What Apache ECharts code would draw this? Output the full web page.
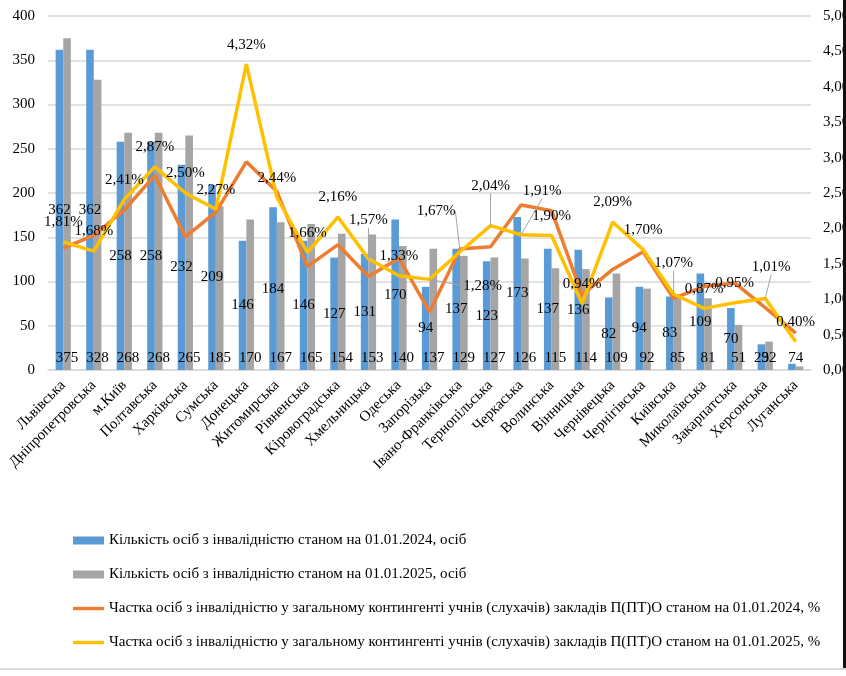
<!DOCTYPE html>
<html>
<head>
<meta charset="utf-8">
<script src="https://cdn.jsdelivr.net/npm/echarts@6/dist/echarts.min.js"></script>
<style>
html, body { margin: 0; padding: 0; background: #fff; }
#main { width: 846px; height: 676px; }
</style>
</head>
<body>
<div id="main"></div>
<script>
// області
let regions = ['Львівська', 'Дніпропетровська', 'м.Київ', 'Полтавська', 'Харківська', 'Сумська',
	'Донецька', 'Житомирська', 'Рівненська', 'Кіровоградська', 'Хмельницька', 'Одеська',
	'Запорізька', 'Івано-Франківська', 'Тернопільська', 'Черкаська', 'Волинська', 'Вінницька',
	'Чернівецька', 'Чернігівська', 'Київська', 'Миколаївська', 'Закарпатська', 'Херсонська', 'Луганська']

let count2024 = [362, 362, 258, 258, 232, 209, 146, 184, 146, 127, 131, 170, 94, 137, 123, 173, 137, 136, 82, 94, 83, 109, 70, 29, 7]
let count2025 = [375, 328, 268, 268, 265, 185, 170, 167, 165, 154, 153, 140, 137, 129, 127, 126, 115, 114, 109, 92, 85, 81, 51, 32, 4]

let share2024 = [1.72, 1.90, 2.26, 2.75, 1.88, 2.23, 2.94, 2.52, 1.46, 1.77, 1.32, 1.58, 0.82, 1.71, 1.74, 2.33, 2.25, 1.06, 1.42, 1.67, 1.01, 1.18, 1.23, 0.88, 0.52]
let share2025 = [1.81, 1.68, 2.41, 2.87, 2.50, 2.27, 4.32, 2.44, 1.66, 2.16, 1.57, 1.33, 1.28, 1.67, 2.04, 1.91, 1.90, 0.94, 2.09, 1.70, 1.07, 0.87, 0.95, 1.01, 0.40]

let leftTicks = [0, 400, 50]
let rightTicks = [0, 5, 0.5]

let legendNames = [
	'Кількість осіб з інвалідністю станом на 01.01.2024, осіб',
	'Кількість осіб з інвалідністю станом на 01.01.2025, осіб',
	'Частка осіб з інвалідністю у загальному контингенті учнів (слухачів) закладів П(ПТ)О станом на 01.01.2024, %',
	'Частка осіб з інвалідністю у загальному контингенті учнів (слухачів) закладів П(ПТ)О станом на 01.01.2025, %'
]

// зсуви підписів (як у вихідному графіку)
let labelShift = {
	10: [0, -19],
	12: [53, 26],
	13: [-24, -21],
	14: [0, -20],
	15: [21, -24],
	20: [0, -12],
	23: [6, -12]
}

let font = 'Liberation Serif, Times New Roman, serif'
let lineIcon = 'path://M0,0h32v3.5h-32z'

function pct(v, d) {
	return v.toFixed(d).replace('.', ',') + '%'
}

let myChart = echarts.init(document.getElementById('main'))

// маленькі стовпчики - підпис внизу
let blueData = count2024.map(function(v) {
	return v < 30 ? { value: v, label: { position: 'insideBottom', distance: 4 } } : v
})

// лінії-виноски тільки для зсунутих підписів
let yellowData = share2025.map(function(v, i) {
	return labelShift[i] ? { value: v, labelLine: { show: true } } : v
})

let option = {
	backgroundColor: '#fff',
	animation: false,
	textStyle: { fontFamily: font },
	grid: { left: 48, right: 35, top: 16, bottom: 306, outerBoundsMode: 'none' },
	legend: {
		orient: 'vertical',
		left: 73,
		top: 533,
		padding: 0,
		itemWidth: 31,
		itemHeight: 8,
		itemGap: 19,
		textStyle: { fontFamily: font, fontSize: 15, color: '#000' },
		data: [
			{ name: legendNames[0], icon: 'rect' },
			{ name: legendNames[1], icon: 'rect' },
			{ name: legendNames[2], icon: lineIcon },
			{ name: legendNames[3], icon: lineIcon }
		]
	},
	xAxis: {
		type: 'category',
		data: regions,
		axisLine: { lineStyle: { color: '#d9d9d9', width: 1.5 } },
		axisTick: { show: false },
		axisLabel: { rotate: 45, interval: 0, fontFamily: font, fontSize: 15, color: '#000', margin: 13 }
	},
	yAxis: [{
		type: 'value',
		min: leftTicks[0], max: leftTicks[1], interval: leftTicks[2],
		axisLine: { show: false },
		axisTick: { show: false },
		splitLine: { lineStyle: { color: '#d9d9d9', width: 1.5 } },
		axisLabel: { fontFamily: font, fontSize: 15, color: '#000', margin: 13 }
	}, {
		type: 'value',
		min: rightTicks[0], max: rightTicks[1], interval: rightTicks[2],
		axisLine: { show: false },
		axisTick: { show: false },
		splitLine: { show: false },
		axisLabel: {
			fontFamily: font, fontSize: 15, color: '#000', margin: 12,
			formatter: function(v) { return pct(v, 2) }
		}
	}],
	series: [{
		name: legendNames[0],
		type: 'bar',
		data: blueData,
		itemStyle: { color: '#5b9bd5' },
		barGap: '0%',
		barCategoryGap: '50%',
		label: { show: true, position: 'inside', color: '#000', fontFamily: font, fontSize: 15, textBorderWidth: 0 }
	}, {
		name: legendNames[1],
		type: 'bar',
		data: count2025,
		itemStyle: { color: '#a5a5a5' },
		label: { show: true, position: 'insideBottom', distance: 4, color: '#000', fontFamily: font, fontSize: 15, textBorderWidth: 0 }
	}, {
		name: legendNames[2],
		type: 'line',
		yAxisIndex: 1,
		data: share2024,
		symbol: 'none',
		lineStyle: { color: '#ed7d31', width: 3.5 },
		itemStyle: { color: '#ed7d31' },
		z: 3
	}, {
		name: legendNames[3],
		type: 'line',
		yAxisIndex: 1,
		data: yellowData,
		symbol: 'circle',
		symbolSize: 0.1,
		showSymbol: true,
		lineStyle: { color: '#ffc000', width: 3.5 },
		itemStyle: { color: '#ffc000' },
		z: 4,
		label: {
			show: true, position: 'top', distance: 12, color: '#000', fontFamily: font, fontSize: 15,
			formatter: function(p) { return pct(p.value, 2) }
		},
		labelLine: { show: false, lineStyle: { color: '#a5a5a5', width: 1 } },
		labelLayout: function(p) {
			let s = labelShift[p.dataIndex]
			if (!s) return {}
			return { dx: s[0], dy: s[1] }
		}
	}],
	graphic: [{
		type: 'rect', z: 100,
		shape: { x: 843, y: 0, width: 3, height: 669 },
		style: { fill: '#111' }
	}, {
		type: 'rect', z: 100,
		shape: { x: 0, y: 668, width: 846, height: 2 },
		style: { fill: '#d9d9d9' }
	}]
}

myChart.setOption(option)
</script>
</body>
</html>
